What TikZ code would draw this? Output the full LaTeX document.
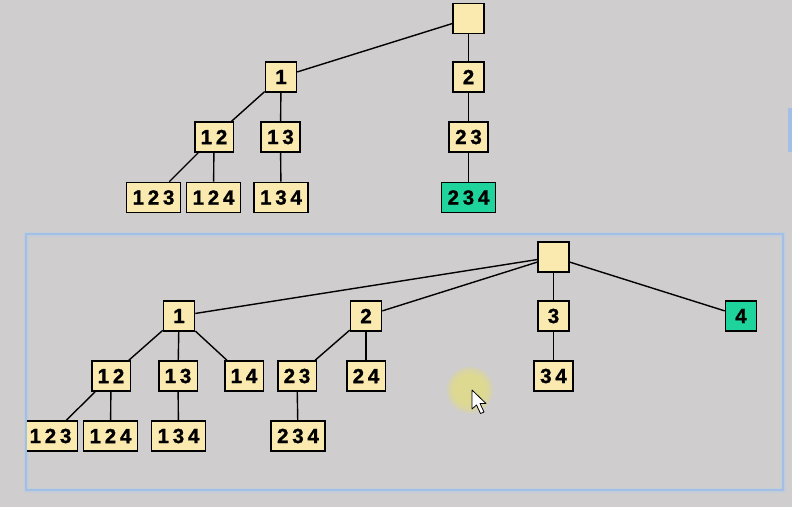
\documentclass[tikz,border=0pt]{standalone}
\usepackage{fontspec}
\setmainfont{Liberation Sans}
\newfontfamily\labfont[FakeBold=1.2]{Liberation Sans Bold}
\definecolor{bgc}{HTML}{CFCDCE}
\definecolor{boxc}{HTML}{FBEAB0}
\definecolor{greenc}{HTML}{1FD49C}
\definecolor{panelc}{HTML}{A3BFE4}
\definecolor{glowc}{HTML}{C3CDDA}
\definecolor{hlc}{HTML}{E2DD84}
\newcommand\gp{\kern 3.8pt}
\begin{document}
\begin{tikzpicture}[x=1pt,y=-1pt,
  box/.style={draw=black, line width=1.6pt, fill=boxc, minimum width=31pt, minimum height=30pt,
    inner xsep=6pt, inner ysep=0pt, font=\labfont\fontsize{20.5}{20.5}\selectfont},
  hl/.style={box, fill=greenc},
  edge/.style={line width=1.4pt, black}]
\fill[bgc] (0,0) rectangle (792,507);
\useasboundingbox (0,0) rectangle (792,507);
% right-edge fragment
\fill[panelc] (788,108) rectangle (792,152);
% panel
\draw[glowc, line width=5pt] (26,234) rectangle (783,490);
\draw[panelc, line width=1.8pt] (26,234) rectangle (783,490);

% ---------- top tree ----------
\node[box] (t) at (468.5,18.5) {};
\node[box] (t1) at (281,77) {1};
\node[box] (t2) at (468.5,77) {2};
\node[box] (t12) at (214,137) {1\gp2};
\node[box] (t13) at (280.5,137) {1\gp3};
\node[box] (t23) at (468.5,137) {2\gp3};
\node[box] (t123) at (153.5,197.5) {1\gp2\gp3};
\node[box] (t124) at (213.5,197.5) {1\gp2\gp4};
\node[box] (t134) at (281,197.5) {1\gp3\gp4};
\node[hl] (t234) at (468.5,197.5) {2\gp3\gp4};
\draw[edge] (t) -- (t1);
\draw[edge] (t) -- (t2);
\draw[edge] (t1) -- (t12);
\draw[edge] (t1) -- (t13);
\draw[edge] (t2) -- (t23);
\draw[edge] (t12) -- (t123);
\draw[edge] (t12) -- (t124);
\draw[edge] (t13) -- (t134);
\draw[edge] (t23) -- (t234);

% ---------- bottom tree ----------
\node[box] (b) at (553.5,257) {};
\node[box] (b1) at (179,316) {1};
\node[box] (b2) at (366,316) {2};
\node[box] (b3) at (553.5,316) {3};
\node[hl] (b4) at (741,316) {4};
\node[box] (b12) at (111,376) {1\gp2};
\node[box] (b13) at (178,376) {1\gp3};
\node[box] (b14) at (244,376) {1\gp4};
\node[box] (b23) at (297,376) {2\gp3};
\node[box] (b24) at (366,376) {2\gp4};
\node[box] (b34) at (553.5,376) {3\gp4};
\begin{scope}
\clip (27,235) rectangle (782,489);
\node[box] (b123) at (50.5,436) {1\gp2\gp3};
\end{scope}
\node[box] (b124) at (110.5,436) {1\gp2\gp4};
\node[box] (b134) at (178.5,436) {1\gp3\gp4};
\node[box] (b234) at (298,436) {2\gp3\gp4};
\draw[edge] (b) -- (b1);
\draw[edge] (b) -- (b2);
\draw[edge] (b) -- (b3);
\draw[edge] (b) -- (b4);
\draw[edge] (b1) -- (b12);
\draw[edge] (b1) -- (b13);
\draw[edge] (b1) -- (b14);
\draw[edge] (b2) -- (b23);
\draw[edge] (b2) -- (b24);
\draw[edge] (b3) -- (b34);
\draw[edge] (b12) -- (b123);
\draw[edge] (b12) -- (b124);
\draw[edge] (b13) -- (b134);
\draw[edge] (b23) -- (b234);

% cursor highlight and arrow
\fill[hlc, opacity=0.35] (470,390) circle (23);
\fill[hlc, opacity=0.45] (470,390) circle (20);
\fill[hlc, opacity=0.5] (470,390) circle (16);
\filldraw[fill=white, draw=black, line width=0.8pt, line join=round]
  (472,390) -- (472,409) -- (476.5,405) -- (480.5,413.5) -- (484,412) -- (480,403.5) -- (486,403.5) -- cycle;
\end{tikzpicture}
\end{document}
